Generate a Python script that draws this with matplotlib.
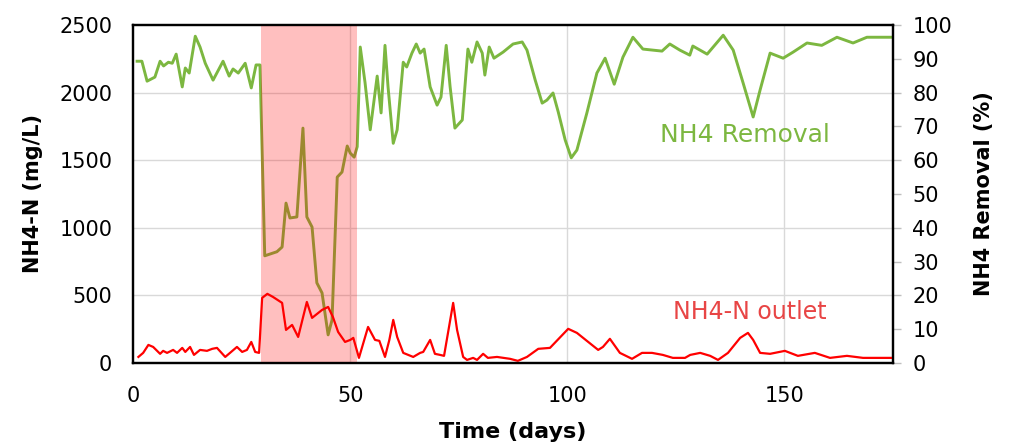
import matplotlib
matplotlib.use("Agg")
import matplotlib.pyplot as plt

# NH4 removal (%) - right axis
removal_days = [0.9, 2, 3.2, 5, 6.2, 7, 8.1, 9, 9.9, 11.3, 12, 12.9, 14.3, 15.4, 16.6, 18.4,
                20.7, 22.1, 23, 24.2, 25.8, 27.2, 28.3, 29.2, 30.3, 33.1, 34.3, 35.2, 36.1, 37.7,
                39.1, 40, 41.2, 42.3, 43.5, 44.9, 45.8, 47, 48.1, 49.3, 50, 50.9, 51.6, 52.3,
                53.4, 54.6, 56.2, 57.1, 58, 58.7, 59.9, 60.8, 62.2, 63, 64.2, 65.2, 66.1, 67,
                68.4, 70, 70.9, 72.1, 73, 74.1, 75.8, 77.1, 78, 79.2, 80.4, 81, 82, 83.1, 85.2,
                87.5, 89.6, 90.7, 92.6, 94.2, 95.3, 96.7, 97.9, 99.5, 100.9, 102.2, 104.5, 106.8,
                108.7, 110.8, 112.8, 115.1, 117.4, 121.8, 123.6, 125.9, 128.2, 128.9, 132.2,
                135.9, 138.2, 140.5, 142.8, 144.4, 146.7, 149.7, 152, 155.2, 158.6, 162.1, 165.8,
                169, 172, 175]
removal_pct = [89.3, 89.3, 83.4, 84.6, 89.3, 87.9, 89, 88.7, 91.4, 81.7, 87.3, 85.8, 96.7, 93.5,
               88.7, 83.7, 89.3, 84.9, 87, 85.8, 88.7, 81.4, 88.2, 88.2, 31.7, 32.9, 34.3, 47.3,
               42.9, 43.2, 69.5, 43.2, 40.2, 23.7, 20.7, 8.3, 12.7, 55, 56.5, 64.2, 62.1, 60.9,
               64, 93.5, 83, 69, 84.9, 74, 94, 81.7, 65, 69, 89, 87.6, 91.7, 94.4, 91.7, 92.9,
               81.7, 76.3, 78.7, 94, 81.7, 69.5, 71.9, 92.9, 89, 95, 91.7, 85.2, 93.5, 90.2, 92,
               94.4, 95, 92.6, 83.7, 76.9, 77.8, 79.9, 74.3, 66, 60.7, 63, 74, 85.8,
               90.2, 82.5, 90.5, 96.4, 92.9, 92.3, 94.4, 92.6, 91.1, 93.8, 91.4,
               97, 92.6, 82.8, 72.8, 80.8, 91.7, 90.2, 92, 94.7, 94, 96.4, 94.7,
               96.4, 96.4, 96.4]

# NH4-N outlet (mg/L) - left axis
outlet_days = [1.2, 2.3, 3.5, 4.6, 6.2, 6.9, 7.8, 9.2, 10.1, 11.3, 12, 13.1, 14, 15.4, 17, 18.2,
               19.3, 21.2, 22.3, 23.9, 25.1, 26.2, 27.2, 28.1, 29, 29.7, 30.9, 32.2, 34.3, 35.2,
               36.6, 38, 40, 41.2, 43.5, 44.9, 46, 47.2, 48.8, 50, 50.7, 52, 54.1, 55.7, 56.7,
               58, 59, 59.9, 60.8, 62.2, 64.5, 66.1, 66.8, 68.4, 69.5, 70.7, 71.6, 73.7, 74.6,
               76, 76.9, 78.3, 79.2, 80.6, 81.7, 83.8, 86.8, 88.6, 90.7, 93.3, 96, 100.2, 102.2,
               107.1, 108.2, 109.8, 112.1, 114.9, 117.2, 119.5, 122, 124.3, 127.1, 128.3, 130.6,
               132.9, 134.7, 137, 139.8, 141.6, 142.8, 144.4, 146.7, 150.1, 153.1, 157, 160.5,
               164.4, 168.1, 172.7, 175]
outlet_conc = [44, 74, 133, 118, 67, 89, 74, 96, 74, 111, 81, 118, 59, 96, 89, 104,
               111, 44, 74, 118, 81, 96, 155, 81, 74, 481, 511, 488, 444, 244,
               281, 192, 451, 333, 392, 414, 340, 229, 155, 170, 185, 37, 266, 170, 163,
               44, 170, 318, 192, 74, 44, 74, 81, 170, 67, 59, 52, 444, 244,
               44, 22, 37, 22, 67, 37, 44, 30, 15, 44, 104, 111, 252, 222,
               96, 118, 178, 74, 30, 74, 74, 59, 37, 37, 59, 74,
               52, 22, 74, 185, 222, 170, 74, 67, 89, 52, 74, 37,
               52, 37, 37, 37]

period_start, period_end = 29.5, 51.6

green = '#7cb740'
red = '#ff0000'
grid_c = '#d9d9d9'

fig = plt.figure(figsize=(10.09, 4.48), dpi=100)
ax1 = fig.add_axes([0.132, 0.19, 0.753, 0.754])
ax2 = ax1.twinx()

# removal curve + shaded period on the lower axis, outlet curve on top
ax1.set_zorder(ax2.get_zorder() + 1)
ax1.patch.set_visible(False)

for v in range(20, 100, 20):
    ax2.axhline(v, color=grid_c, lw=1, zorder=0)
for d in [50, 100, 150]:
    ax2.axvline(d, color=grid_c, lw=1, zorder=0)

ax2.plot(removal_days, removal_pct, color=green, lw=2.1, zorder=2)
ax2.axvspan(period_start, period_end, color='red', alpha=0.25, lw=0, zorder=3)
ax1.plot(outlet_days, outlet_conc, color=red, lw=1.6)

ax1.set_xlim(0, 175)
ax1.set_ylim(0, 2500)
ax2.set_ylim(0, 100)
ax1.set_xticks([0, 50, 100, 150])
ax1.set_yticks(range(0, 2501, 500))
ax2.set_yticks(range(0, 101, 10))

ax1.tick_params(axis='both', length=0, labelsize=15)
ax1.tick_params(axis='y', pad=15)
ax1.tick_params(axis='x', pad=17)
ax2.tick_params(axis='y', length=6, width=1, color='#bfbfbf', labelsize=15, pad=8)

for ax in (ax1, ax2):
    for s in ax.spines.values():
        s.set_linewidth(1.6)
        s.set_color('black')

ax1.set_xlabel('Time (days)', fontsize=16, fontweight='bold', labelpad=11)
ax1.set_ylabel('NH4-N (mg/L)', fontsize=15, fontweight='bold', labelpad=12)
ax2.set_ylabel('NH4 Removal (%)', fontsize=15, fontweight='bold', labelpad=16)

ax2.text(141, 67.5, 'NH4 Removal', color=green, fontsize=18, ha='center', va='center')
ax1.text(142, 377, 'NH4-N outlet', color='#e84545', fontsize=17, ha='center', va='center')

fig.savefig('out.png', dpi=100)
